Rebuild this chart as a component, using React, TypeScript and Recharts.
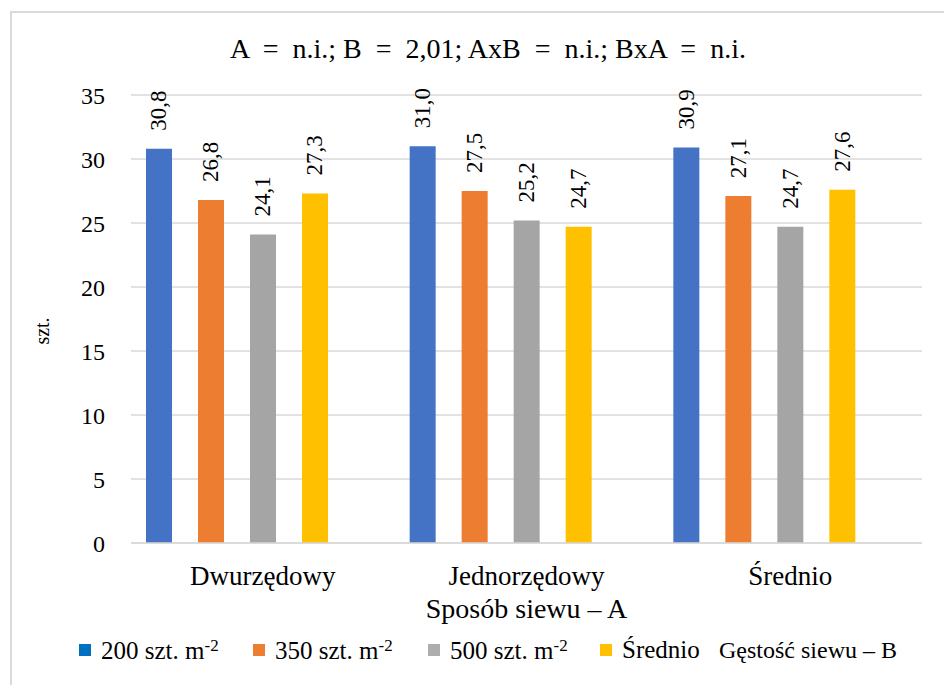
import React from "react";
import { BarChart, Bar, XAxis, YAxis, CartesianGrid, LabelList, Label } from "recharts";

// Sowing method (categories along the x axis)
const CATEGORIES = ["Dwurzędowy", "Jednorzędowy", "Średnio"];

// Plant density series, values in szt.
const DENSITY_200 = [30.8, 31.0, 30.9];
const DENSITY_350 = [26.8, 27.5, 27.1];
const DENSITY_500 = [24.1, 25.2, 24.7];
const DENSITY_MEAN = [27.3, 24.7, 27.6];

const Y_TICKS = [0, 5, 10, 15, 20, 25, 30, 35];

const TITLE = "A  =  n.i.; B  =  2,01; AxB  =  n.i.; BxA  =  n.i.";

const FONT = "'Liberation Serif', serif";

const SERIES = [
  { key: "d200", name: "200 szt. m", sup: "-2", color: "#4472C4", legendColor: "#0070C0" },
  { key: "d350", name: "350 szt. m", sup: "-2", color: "#ED7D31", legendColor: "#ED7D31" },
  { key: "d500", name: "500 szt. m", sup: "-2", color: "#A5A5A5", legendColor: "#ADADAD" },
  { key: "mean", name: "Średnio", sup: "", color: "#FFC000", legendColor: "#FFC000" },
];

const data = CATEGORIES.map((name, i) => ({
  name,
  d200: DENSITY_200[i],
  d350: DENSITY_350[i],
  d500: DENSITY_500[i],
  mean: DENSITY_MEAN[i],
  // empty series that only carries the "Gęstość siewu – B" legend entry
  empty: null as number | null,
}));

const fmt = (v: number) => v.toFixed(1).replace(".", ",");

function RotatedLabel(props: any) {
  const { x, y, width, value } = props;
  if (value == null) return null;
  const cx = x + width / 2;
  const ly = y - 18;
  return (
    <text
      x={cx}
      y={ly}
      transform={`rotate(-90, ${cx}, ${ly})`}
      textAnchor="start"
      dominantBaseline="central"
      style={{ fontFamily: FONT, fontSize: 23, fill: "#000" }}
    >
      {fmt(value)}
    </text>
  );
}

// vertical "szt." title, left of the tick labels and a little below the plot's middle
function YTitle(props: any) {
  const vb = props.viewBox || {};
  const x = vb.x + 11;
  const y = vb.y + vb.height / 2 + 12;
  return (
    <text
      x={x}
      y={y}
      transform={`rotate(-90, ${x}, ${y})`}
      textAnchor="middle"
      dominantBaseline="central"
      style={{ fontFamily: FONT, fontSize: 20, fill: "#000" }}
    >
      szt.
    </text>
  );
}

const LEGEND_LEFT = [79, 253, 428, 600];

function ChartLegend() {
  return (
    <div style={{ position: "absolute", left: 0, top: 635, width: 944, height: 30, fontFamily: FONT, fontSize: 25, color: "#000" }}>
      {SERIES.map((s, i) => (
        <div
          key={s.key}
          style={{ position: "absolute", left: LEGEND_LEFT[i], top: 0, height: 30, display: "flex", alignItems: "center", whiteSpace: "nowrap" }}
        >
          <span style={{ display: "inline-block", width: 12, height: 12, background: s.legendColor, marginRight: 10 }} />
          <span>
            {s.name}
            {s.sup && <sup style={{ fontSize: 17, verticalAlign: "8px" }}>{s.sup}</sup>}
          </span>
        </div>
      ))}
      <div style={{ position: "absolute", left: 719, top: 0, whiteSpace: "nowrap", fontSize: 24, lineHeight: "30px" }}>
        Gęstość siewu – B
      </div>
    </div>
  );
}

export default function App() {
  return (
    <div style={{ position: "absolute", left: 0, top: 0, width: 944, height: 685, overflow: "hidden", background: "#fff" }}>
      <div
        style={{ position: "absolute", left: 10, top: 11, width: 960, height: 700, border: "2px solid #d9d9d9", boxSizing: "border-box" }}
      />
      <div
        style={{
          position: "absolute",
          left: 0,
          width: 976,
          top: 34,
          textAlign: "center",
          fontFamily: FONT,
          fontSize: 28,
          lineHeight: "30px",
          whiteSpace: "pre",
          color: "#000",
        }}
      >
        {TITLE}
      </div>
      <div style={{ position: "absolute", left: 0, top: 0 }}>
        <BarChart
          width={944}
          height={685}
          data={data}
          margin={{ top: 95, right: 22, bottom: 62, left: 31 }}
          barSize={26}
          barGap={26}
        >
          <CartesianGrid vertical={false} stroke="#d9d9d9" strokeWidth={1.5} />
          <XAxis
            dataKey="name"
            height={80}
            axisLine={{ stroke: "#d9d9d9", strokeWidth: 1.5 }}
            tickLine={false}
            tickMargin={17}
            tick={{ style: { fontFamily: FONT, fontSize: 27, fill: "#000" } } as any}
            interval={0}
          >
            <Label
              value="Sposób siewu – A"
              position="insideBottom"
              offset={5}
              style={{ fontFamily: FONT, fontSize: 28, fill: "#000" }}
            />
          </XAxis>
          <YAxis
            width={100}
            domain={[0, 35]}
            ticks={Y_TICKS}
            axisLine={false}
            tickLine={false}
            tickMargin={20}
            tick={{ style: { fontFamily: FONT, fontSize: 24, fill: "#000" } } as any}
          >
            <Label content={<YTitle />} />
          </YAxis>
          {SERIES.map((s) => (
            <Bar key={s.key} dataKey={s.key} name={s.name} fill={s.color} isAnimationActive={false}>
              <LabelList dataKey={s.key} content={<RotatedLabel />} />
            </Bar>
          ))}
          <Bar dataKey="empty" name="Gęstość siewu – B" fill="none" isAnimationActive={false} />
        </BarChart>
      </div>
      <ChartLegend />
    </div>
  );
}
